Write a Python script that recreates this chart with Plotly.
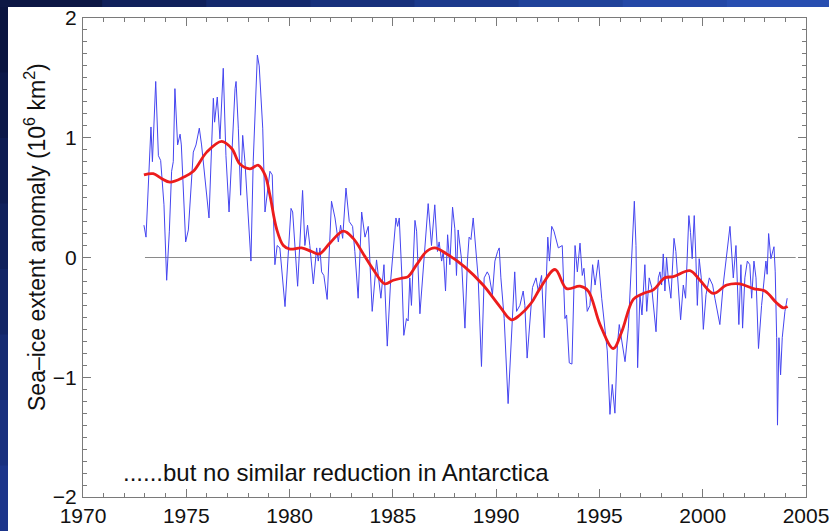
import plotly.graph_objects as go

# Monthly sea-ice extent anomaly (10^6 km^2), decimal years
blue_t = [
    1972.95, 1973.05, 1973.29, 1973.36, 1973.52, 1973.65, 1973.76, 1973.92, 1974.05, 1974.18,
    1974.29, 1974.37, 1974.45, 1974.58, 1974.70, 1974.76, 1974.97, 1975.10, 1975.34, 1975.47,
    1975.63, 1975.74, 1976.10, 1976.31, 1976.37, 1976.50, 1976.63, 1976.79, 1976.92, 1977.07,
    1977.36, 1977.41, 1977.52, 1977.63, 1977.73, 1977.84, 1978.13, 1978.24, 1978.44, 1978.53,
    1978.70, 1978.81, 1979.05, 1979.16, 1979.29, 1979.40, 1979.53, 1979.78, 1980.07, 1980.15,
    1980.39, 1980.63, 1980.74, 1980.87, 1980.98, 1981.15, 1981.31, 1981.39, 1981.47, 1981.55,
    1981.66, 1981.82, 1982.03, 1982.20, 1982.36, 1982.47, 1982.57, 1982.73, 1982.89, 1983.05,
    1983.16, 1983.32, 1983.49, 1983.65, 1983.81, 1984.00, 1984.21, 1984.42, 1984.57, 1984.73,
    1984.89, 1985.15, 1985.23, 1985.31, 1985.44, 1985.53, 1985.66, 1985.74, 1985.82, 1985.90,
    1986.07, 1986.15, 1986.31, 1986.44, 1986.71, 1986.87, 1987.03, 1987.16, 1987.24, 1987.36,
    1987.44, 1987.55, 1987.65, 1987.76, 1987.89, 1988.00, 1988.08, 1988.16, 1988.32, 1988.49,
    1988.61, 1988.69, 1988.78, 1988.89, 1989.02, 1989.13, 1989.29, 1989.42, 1989.57, 1989.66,
    1989.82, 1989.94, 1990.07, 1990.15, 1990.23, 1990.39, 1990.58, 1990.71, 1990.90, 1990.99,
    1991.15, 1991.31, 1991.39, 1991.50, 1991.63, 1991.76, 1991.93, 1992.04, 1992.20, 1992.33,
    1992.50, 1992.58, 1992.69, 1992.80, 1993.01, 1993.20, 1993.33, 1993.41, 1993.54, 1993.67,
    1993.82, 1993.93, 1994.06, 1994.17, 1994.25, 1994.41, 1994.54, 1994.67, 1994.79, 1994.95,
    1995.11, 1995.27, 1995.38, 1995.51, 1995.62, 1995.75, 1995.87, 1995.96, 1996.12, 1996.24,
    1996.40, 1996.56, 1996.69, 1996.77, 1996.85, 1996.96, 1997.06, 1997.20, 1997.29, 1997.41,
    1997.53, 1997.74, 1997.85, 1997.93, 1998.01, 1998.09, 1998.17, 1998.25, 1998.33, 1998.46,
    1998.61, 1998.70, 1998.82, 1998.93, 1999.06, 1999.17, 1999.33, 1999.41, 1999.49, 1999.59,
    1999.67, 1999.74, 1999.83, 1999.93, 2000.03, 2000.16, 2000.32, 2000.48, 2000.59, 2000.83,
    2000.99, 2001.32, 2001.48, 2001.61, 2001.75, 2001.85, 2001.93, 2002.04, 2002.16, 2002.28,
    2002.37, 2002.48, 2002.58, 2002.70, 2002.85, 2002.96, 2003.06, 2003.12, 2003.19, 2003.30,
    2003.45, 2003.51, 2003.58, 2003.62, 2003.69, 2003.77, 2003.85, 2003.98, 2004.09,
]
blue_v = [
    0.27, 0.17, 1.09, 0.80, 1.47, 0.85, 0.81, 0.44, -0.19, 0.22,
    0.72, 0.80, 1.41, 0.94, 1.03, 0.94, 0.13, 0.23, 0.88, 0.94,
    1.08, 0.94, 0.33, 1.33, 1.13, 1.34, 0.99, 1.58, 0.85, 0.38,
    1.41, 1.47, 1.08, 0.52, 1.02, 0.80, -0.03, 0.80, 1.69, 1.60,
    1.08, 0.38, 0.72, 0.69, -0.06, 0.10, 0.08, -0.41, 0.41, 0.38,
    -0.24, 0.56, 0.10, 0.27, 0.10, -0.22, 0.08, -0.03, 0.08, -0.12,
    -0.15, -0.35, 0.47, 0.33, 0.13, 0.27, 0.16, 0.58, 0.30, 0.26,
    0.05, -0.34, 0.38, 0.17, 0.26, -0.45, -0.02, -0.34, -0.06, -0.74,
    -0.20, 0.33, 0.26, 0.33, -0.17, -0.65, -0.51, -0.53, -0.17, -0.40,
    0.31, 0.22, -0.47, -0.17, 0.45, 0.10, 0.44, 0.05, 0.13, -0.03,
    0.05, -0.28, 0.19, -0.06, 0.42, 0.24, -0.15, 0.23, -0.01, -0.59,
    -0.03, 0.17, 0.15, 0.33, 0.05, -0.17, -0.91, -0.17, -0.12, -0.15,
    -0.31, -0.03, 0.05, 0.08, -0.17, -0.51, -1.22, -0.73, -0.12, -0.45,
    -0.40, -0.28, -0.40, -0.84, -0.54, -0.25, -0.17, -0.28, -0.15, -0.67,
    0.17, -0.03, 0.26, 0.22, 0.08, 0.10, -0.51, -0.48, -0.88, -0.89,
    0.10, -0.12, 0.12, -0.15, -0.09, -0.45, -0.40, -0.06, -0.23, -0.02,
    -0.34, -0.62, -0.78, -1.31, -1.06, -1.30, -0.73, -0.56, -0.73, -0.87,
    -0.59, -0.03, 0.47, 0.10, -0.92, -0.31, -0.48, -0.06, -0.45, -0.17,
    -0.25, -0.62, -0.17, -0.12, -0.23, 0.03, -0.28, 0.00, -0.17, -0.34,
    0.16, 0.05, -0.28, -0.52, -0.23, -0.34, 0.35, 0.21, -0.01, 0.35,
    -0.01, -0.40, -0.01, -0.17, -0.60, -0.31, -0.17, -0.23, -0.34, -0.56,
    -0.23, 0.26, -0.17, 0.10, -0.56, -0.06, -0.59, -0.17, -0.03, -0.06,
    -0.34, -0.03, -0.17, -0.76, -0.40, -0.17, -0.03, -0.14, 0.20, -0.01,
    0.09, -0.12, -0.67, -1.40, -0.67, -0.98, -0.67, -0.45, -0.34,
]

# Low-pass filtered anomaly
red_t = [
    1972.95, 1973.40, 1973.80, 1974.21, 1974.86, 1975.34, 1975.99, 1976.71, 1977.20, 1977.60,
    1978.08, 1978.49, 1978.81, 1979.05, 1979.37, 1979.70, 1980.02, 1980.58, 1981.07, 1981.44,
    1981.95, 1982.60, 1983.08, 1983.57, 1984.05, 1984.61, 1985.02, 1985.50, 1985.74, 1986.15,
    1986.63, 1987.03, 1987.60, 1988.49, 1989.37, 1990.18, 1990.74, 1991.15, 1991.70, 1992.12,
    1992.85, 1993.41, 1994.06, 1994.46, 1995.03, 1995.67, 1996.08, 1996.64, 1997.12, 1997.61,
    1998.17, 1998.58, 1999.38, 1999.87, 2000.51, 2001.16, 2001.80, 2002.45, 2003.01, 2003.58,
    2003.90, 2004.11,
]
red_v = [
    0.69, 0.70, 0.66, 0.63, 0.67, 0.72, 0.88, 0.97, 0.91, 0.78,
    0.74, 0.77, 0.69, 0.52, 0.24, 0.10, 0.07, 0.08, 0.05, 0.03,
    0.12, 0.22, 0.16, 0.03, -0.10, -0.22, -0.19, -0.17, -0.16, -0.06,
    0.05, 0.08, 0.03, -0.08, -0.23, -0.41, -0.52, -0.48, -0.38, -0.26,
    -0.10, -0.26, -0.24, -0.28, -0.56, -0.76, -0.62, -0.35, -0.30, -0.27,
    -0.17, -0.16, -0.11, -0.19, -0.30, -0.23, -0.22, -0.26, -0.28, -0.38,
    -0.42, -0.41,
]

baseline_t = [1973.0, 2004.5]
baseline_v = [0.0, 0.0]

x_ticks = [1970, 1975, 1980, 1985, 1990, 1995, 2000, 2005]
y_ticks = [-2, -1, 0, 1, 2]

y_title = "Sea\u2013ice extent anomaly (10<sup>6</sup> km<sup>2</sup>)"
note = "......but no similar reduction in Antarctica"

W, H = 829, 531
ML, MR, MT, MB = 83, 23, 18, 34
PW, PH = W - ML - MR, H - MT - MB


def px_to_paper(px, py):
    return (px - ML) / PW, (H - MB - py) / PH


fig = go.Figure()
fig.add_trace(go.Scatter(x=baseline_t, y=baseline_v, mode="lines",
                         line=dict(color="#8a8a8a", width=1.2), hoverinfo="skip"))
fig.add_trace(go.Scatter(x=blue_t, y=blue_v, mode="lines",
                         line=dict(color="#4545f0", width=1), hoverinfo="skip"))
fig.add_trace(go.Scatter(x=red_t, y=red_v, mode="lines", line_shape="spline",
                         line=dict(color="#ec1c1c", width=2.8), hoverinfo="skip"))

# dark blue slide border: white panel plus gradient bands on top and left
shapes = []
x0, y0 = px_to_paper(8, 7)
x1, y1 = px_to_paper(W + 5, H + 5)
shapes.append(dict(type="rect", xref="paper", yref="paper", x0=x0, x1=x1, y0=y1, y1=y0,
                   fillcolor="white", line_width=0, layer="below"))
top_cols = ["#0c1744", "#10205a", "#14296c", "#18317c", "#1c3a8c", "#20429a", "#2448a6", "#284eb0"]
n = len(top_cols)
for i, c in enumerate(top_cols):
    a, ya = px_to_paper(-2 + i * (W + 4) / n, 7)
    b, yb = px_to_paper(-2 + (i + 1) * (W + 4) / n + 1, -3)
    shapes.append(dict(type="rect", xref="paper", yref="paper", x0=a, x1=b, y0=ya, y1=yb,
                       fillcolor=c, line_width=0, layer="below"))
left_cols = ["#0a1440", "#0c1848", "#0e1c52", "#10215c", "#132666", "#162b72", "#19307e", "#1c358a"]
n = len(left_cols)
for i, c in enumerate(left_cols):
    a, ya = px_to_paper(-3, 7 + i * (H - 7) / n)
    b, yb = px_to_paper(8, 7 + (i + 1) * (H - 7) / n + 1)
    shapes.append(dict(type="rect", xref="paper", yref="paper", x0=a, x1=b, y0=yb, y1=ya,
                       fillcolor=c, line_width=0, layer="below"))

tick_font = dict(family="Liberation Sans, Arial, sans-serif", size=21, color="#111111")
axis_common = dict(showgrid=False, zeroline=False, showline=True, linecolor="#7a7a7a",
                   linewidth=1, mirror="allticks", ticks="inside", tickcolor="#7a7a7a",
                   tickwidth=1, tickfont=tick_font, automargin=False,
                   ticklabeloverflow="allow")

tx, ty = px_to_paper(35, 237)
nx, ny = px_to_paper(121, 472)

fig.update_layout(
    width=W, height=H,
    margin=dict(l=ML, r=MR, t=MT, b=MB, pad=0, autoexpand=False),
    paper_bgcolor="#112058", plot_bgcolor="white",
    showlegend=False,
    shapes=shapes,
    xaxis=dict(range=[1970, 2005], tickvals=x_ticks, ticklen=8,
               minor=dict(dtick=1, ticks="inside", ticklen=4, tickcolor="#7a7a7a"),
               ticklabelstandoff=0, **axis_common),
    yaxis=dict(range=[-2, 2], tickvals=y_ticks, ticklen=8,
               minor=dict(dtick=0.1, ticks="inside", ticklen=4, tickcolor="#7a7a7a"),
               ticklabelstandoff=1, **axis_common),
    annotations=[
        dict(x=tx, y=ty, xref="paper", yref="paper", xanchor="center", yanchor="middle",
             text=y_title, textangle=-90, showarrow=False,
             font=dict(family="Liberation Sans, Arial, sans-serif", size=23, color="#111111")),
        dict(x=nx, y=ny, xref="paper", yref="paper", xanchor="left", yanchor="middle",
             text=note, showarrow=False,
             font=dict(family="Liberation Sans, Arial, sans-serif", size=24, color="#111111")),
    ],
)

fig.write_html("out.html")
